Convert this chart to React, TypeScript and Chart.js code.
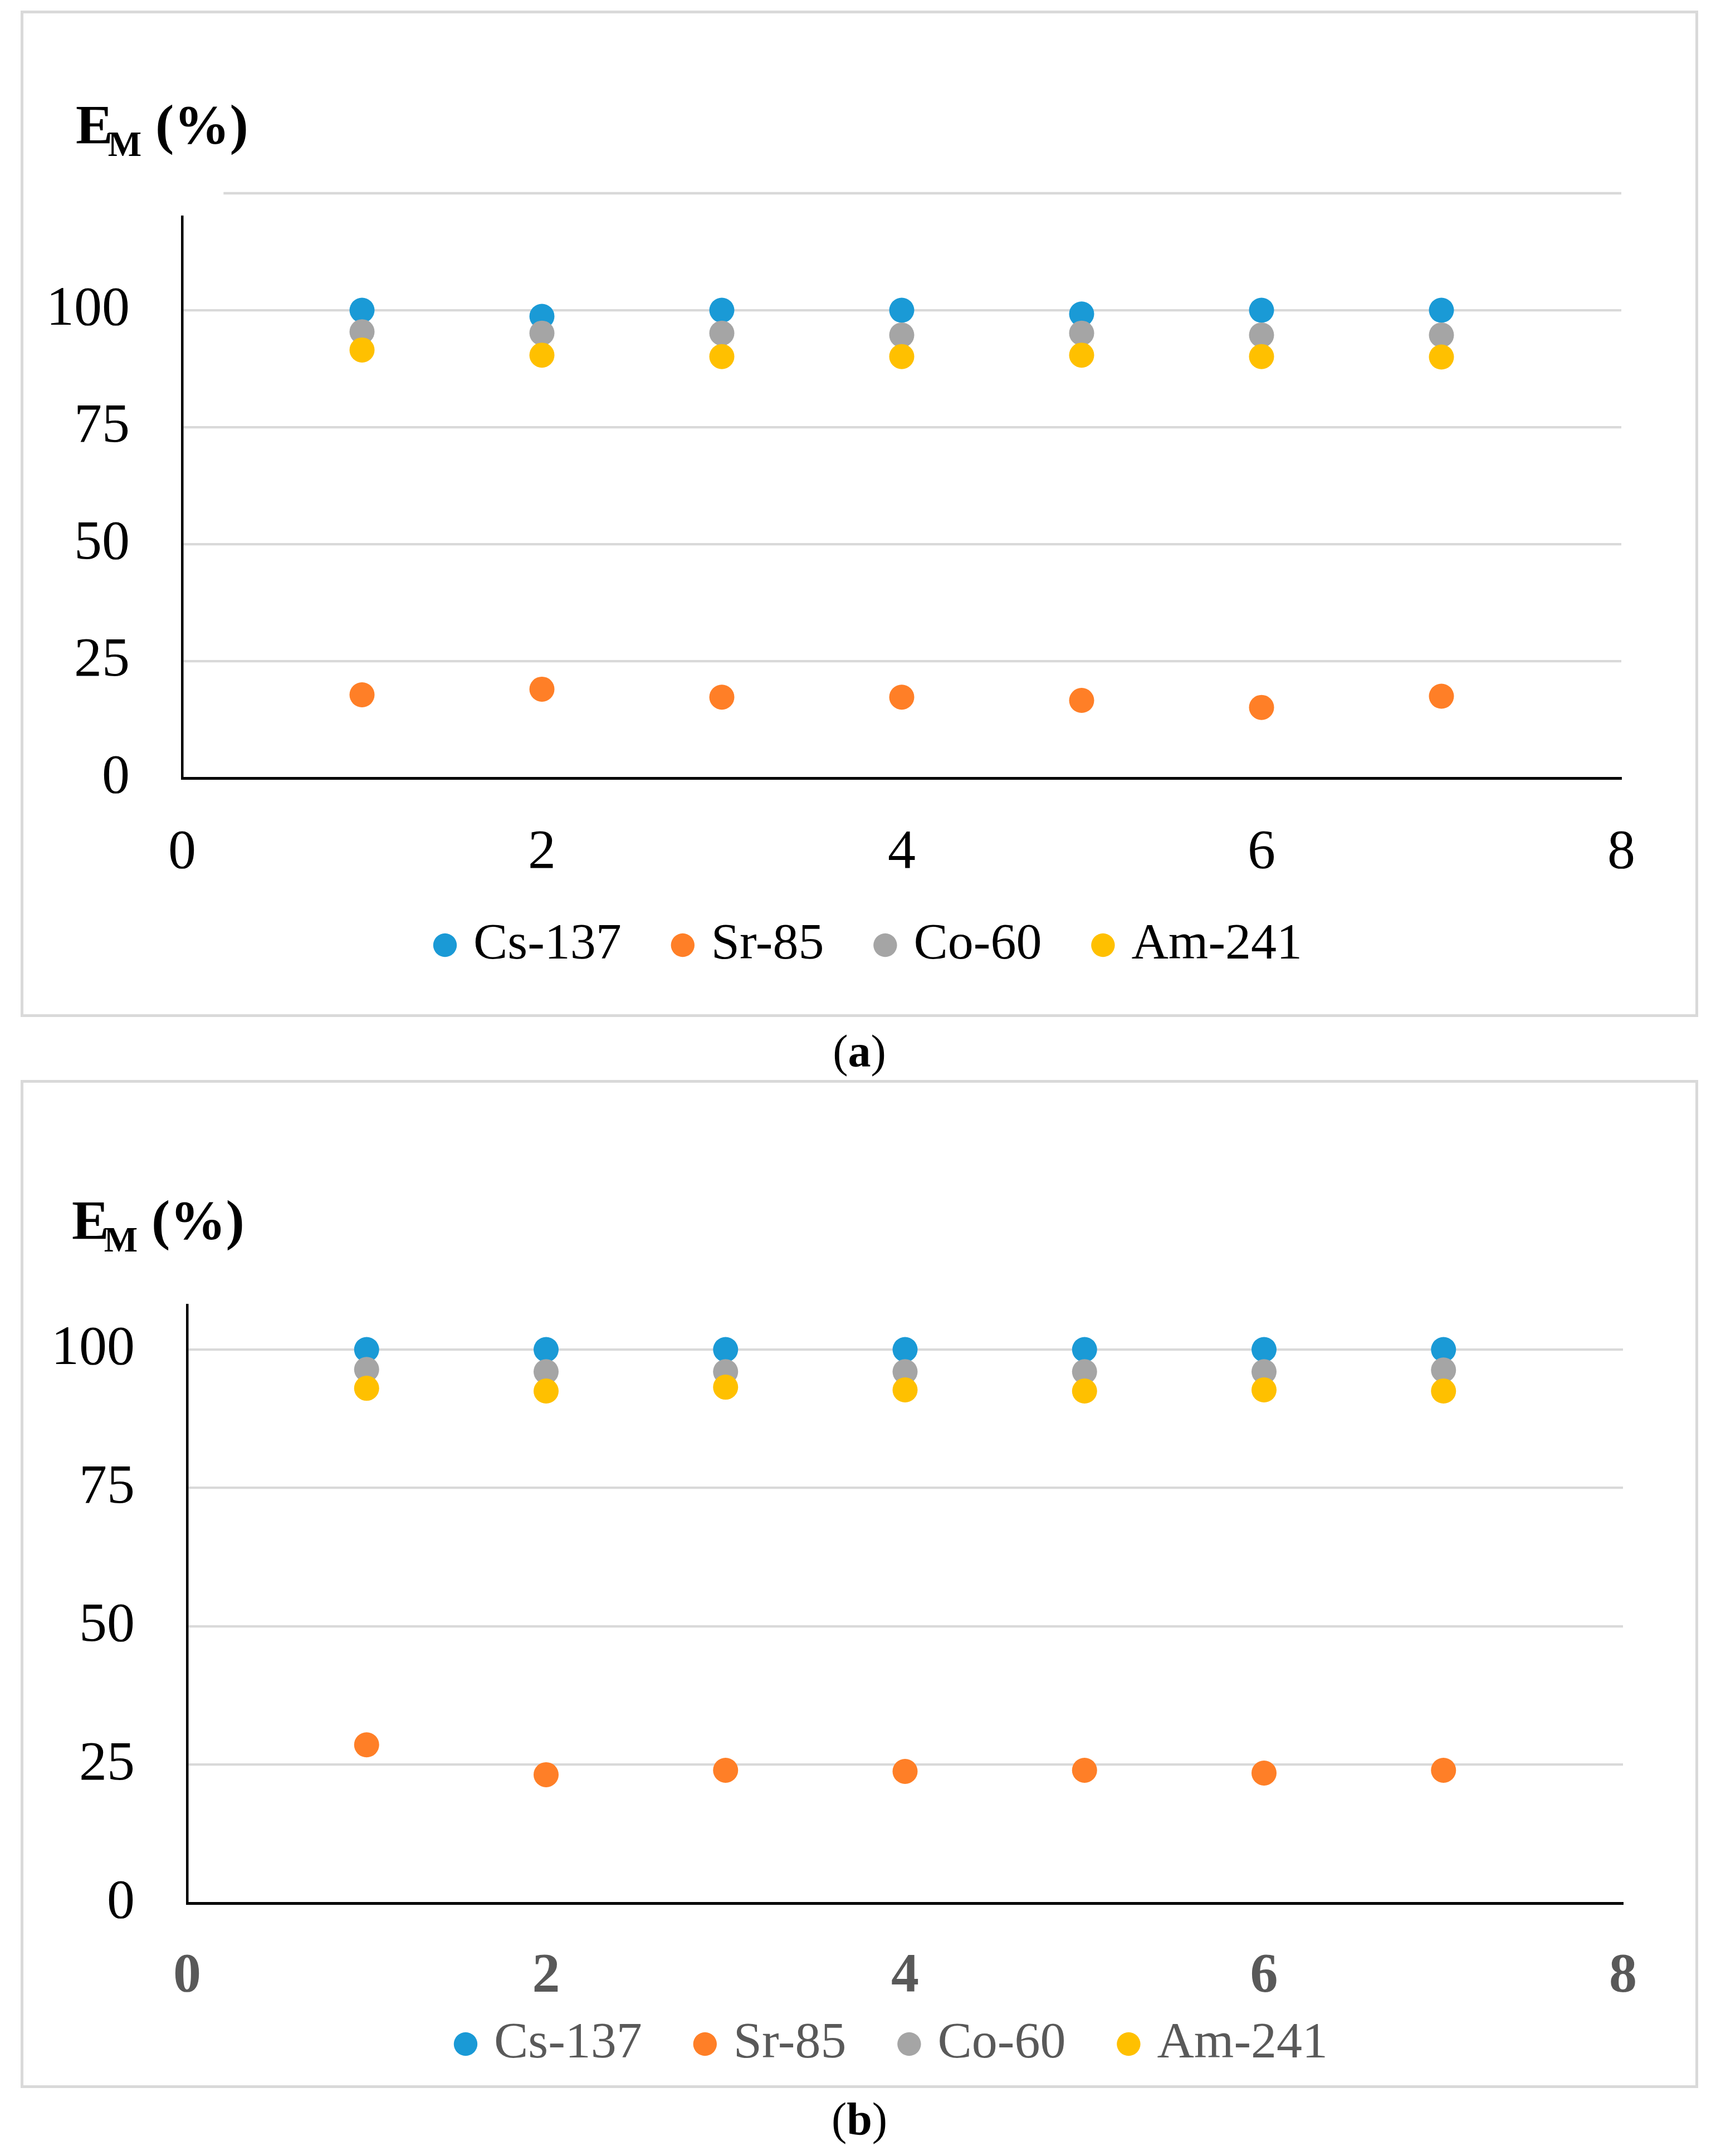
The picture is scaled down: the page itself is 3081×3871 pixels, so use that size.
import React, { useEffect, useRef } from 'react';
import { Chart, registerables } from 'chart.js';

Chart.register(...registerables);

// ---------------- data ----------------
const runs = [1, 2, 3, 4, 5, 6, 7];
const seriesNames = ['Cs-137', 'Sr-85', 'Co-60', 'Am-241'];
const seriesColors = ['#1A9AD6', '#FF7F27', '#A5A5A5', '#FFC000'];
const xTickValues = [0, 2, 4, 6, 8];
const yTickValues = [0, 25, 50, 75, 100];

// panel (a)
const csA = [100, 98.7, 100, 100, 99.2, 100, 100];
const srA = [17.8, 19.0, 17.3, 17.3, 16.6, 15.1, 17.5];
const coA = [95.4, 95.1, 95.1, 94.7, 95.1, 94.7, 94.7];
const amA = [91.5, 90.4, 90.1, 90.1, 90.4, 90.1, 90.0];

// panel (b)
const csB = [100, 100, 100, 100, 100, 100, 100];
const srB = [28.6, 23.2, 24.0, 23.8, 24.0, 23.5, 24.0];
const coB = [96.4, 96.0, 96.0, 96.0, 96.0, 96.0, 96.3];
const amB = [93.0, 92.5, 93.2, 92.7, 92.5, 92.7, 92.5];

const FONT = '"Liberation Serif", "Times New Roman", serif';

// ---------------- layout / style ----------------
const panelA = {
  series: [csA, srA, coA, amA],
  left: 40, top: 22, w: 3006, h: 1802,
  pad: { left: 20, right: 122, top: 367, bottom: 50 },
  yWidth: 267, yMax: 120, xHeight: 170, legendPad: 105, xLabelPad: 110,
  legendDx: 74, legendDy: -21,
  xTickColor: '#000000', xTickWeight: 'normal', legendColor: '#000000',
  extraLine: { value: 125, from: 0.23, to: 8 } as null | { value: number; from: number; to: number },
};
const panelB = {
  series: [csB, srB, coB, amB],
  left: 40, top: 1940, w: 3006, h: 1880,
  pad: { left: 20, right: 113, top: 403.5, bottom: 23 },
  yWidth: 276, yMax: 108, xHeight: 170, legendPad: 108, xLabelPad: 107,
  legendDx: 111, legendDy: -71,
  xTickColor: '#595959', xTickWeight: 'bold', legendColor: '#595959',
  extraLine: null as null | { value: number; from: number; to: number },
};

const extraLinePlugin = {
  id: 'extraLine',
  beforeDatasetsDraw(chart: any, _args: any, opts: any) {
    if (!opts || opts.value == null) return;
    const { ctx, scales } = chart;
    const x = scales.x;
    const y = scales.y;
    const py = y.getPixelForValue(opts.value);
    ctx.save();
    ctx.strokeStyle = '#d9d9d9';
    ctx.lineWidth = 4.3;
    ctx.beginPath();
    ctx.moveTo(x.getPixelForValue(opts.from), py);
    ctx.lineTo(x.getPixelForValue(opts.to), py);
    ctx.stroke();
    ctx.restore();
  },
};

const legendShiftPlugin = {
  id: 'legendShift',
  afterLayout(chart: any, _args: any, opts: any) {
    const lg = chart.legend;
    if (!lg || !opts) return;
    const dx = opts.dx || 0;
    const dy = opts.dy || 0;
    lg.left += dx;
    lg.right += dx;
    lg.top += dy;
    lg.bottom += dy;
  },
};

function ChartPanel({ cfg }: { cfg: typeof panelA }) {
  const ref = useRef<HTMLCanvasElement>(null);
  useEffect(() => {
    const datasets = seriesNames.map((name, i) => ({
      label: name,
      data: runs.map((r, k) => ({ x: r, y: cfg.series[i][k] })),
      backgroundColor: seriesColors[i],
      borderColor: seriesColors[i],
      borderWidth: 0,
      pointRadius: 22.5,
      pointHoverRadius: 22.5,
      pointBorderWidth: 0,
      pointStyle: 'circle',
      order: seriesNames.length - 1 - i,
    }));
    const plugins: any[] = [legendShiftPlugin];
    if (cfg.extraLine) plugins.push(extraLinePlugin);
    const chart = new Chart(ref.current as HTMLCanvasElement, {
      type: 'scatter',
      data: { datasets },
      plugins,
      options: {
        animation: false,
        responsive: false,
        devicePixelRatio: 1,
        events: [],
        layout: { padding: cfg.pad },
        scales: {
          x: {
            type: 'linear',
            min: 0,
            max: 8,
            afterBuildTicks: (s: any) => {
              s.ticks = xTickValues.map((v) => ({ value: v }));
            },
            afterFit: (s: any) => {
              s.height = cfg.xHeight;
            },
            grid: { display: false, drawTicks: false },
            border: { display: true, color: '#000000', width: 5 },
            ticks: {
              padding: cfg.xLabelPad,
              color: cfg.xTickColor,
              font: { family: FONT, size: 100, weight: cfg.xTickWeight as any, lineHeight: 0.5 },
              maxRotation: 0,
              autoSkip: false,
            },
          },
          y: {
            type: 'linear',
            min: 0,
            max: cfg.yMax,
            afterBuildTicks: (s: any) => {
              s.ticks = yTickValues.map((v) => ({ value: v }));
            },
            afterFit: (s: any) => {
              s.width = cfg.yWidth;
            },
            grid: {
              drawTicks: false,
              lineWidth: 4.3,
              color: (c: any) => (c.tick && c.tick.value === 0 ? 'rgba(0,0,0,0)' : '#d9d9d9'),
            },
            border: { display: true, color: '#000000', width: 4.5 },
            ticks: {
              padding: 94,
              color: '#000000',
              font: { family: FONT, size: 100 },
              autoSkip: false,
            },
          },
        },
        plugins: {
          legend: {
            display: true,
            position: 'bottom',
            labels: {
              usePointStyle: true,
              boxWidth: 10,
              boxHeight: 30,
              padding: cfg.legendPad,
              color: cfg.legendColor,
              font: { family: FONT, size: 92 },
              sort: (a: any, b: any) => a.datasetIndex - b.datasetIndex,
            },
          },
          tooltip: { enabled: false },
          legendShift: { dx: cfg.legendDx, dy: cfg.legendDy },
          extraLine: cfg.extraLine || {},
        } as any,
      },
    });
    return () => chart.destroy();
  }, []);
  return (
    <canvas
      ref={ref}
      width={cfg.w}
      height={cfg.h}
      style={{ position: 'absolute', left: cfg.left, top: cfg.top, width: cfg.w, height: cfg.h }}
    />
  );
}

function Title({ left, top }: { left: number; top: number }) {
  return (
    <div
      style={{
        position: 'absolute',
        left,
        top,
        fontFamily: FONT,
        fontWeight: 'bold',
        fontSize: 100,
        lineHeight: '100px',
        whiteSpace: 'nowrap',
        color: '#000',
      }}
    >
      E<span style={{ fontSize: 64, verticalAlign: -23, marginLeft: -9 }}>M</span> (%)
    </div>
  );
}

function Caption({ top, letter }: { top: number; letter: string }) {
  return (
    <div
      style={{
        position: 'absolute',
        left: 0,
        top,
        width: 3086,
        textAlign: 'center',
        fontFamily: FONT,
        fontSize: 82,
        lineHeight: '82px',
        color: '#000',
      }}
    >
      (<b>{letter}</b>)
    </div>
  );
}

function Frame({ left, top, width, height }: { left: number; top: number; width: number; height: number }) {
  return (
    <div
      style={{
        position: 'absolute',
        left,
        top,
        width,
        height,
        boxSizing: 'border-box',
        border: '5px solid #d9d9d9',
        background: '#ffffff',
      }}
    />
  );
}

export default function App() {
  return (
    <div style={{ position: 'absolute', left: 0, top: 0, width: 3081, height: 3871, background: '#ffffff', overflow: 'hidden' }}>
      <Frame left={37} top={19} width={3012} height={1807} />
      <Frame left={37} top={1939} width={3012} height={1810} />
      <Title left={136} top={174} />
      <Title left={129} top={2141} />
      <ChartPanel cfg={panelA} />
      <ChartPanel cfg={panelB} />
      <Caption top={1847} letter="a" />
      <Caption top={3764} letter="b" />
    </div>
  );
}
